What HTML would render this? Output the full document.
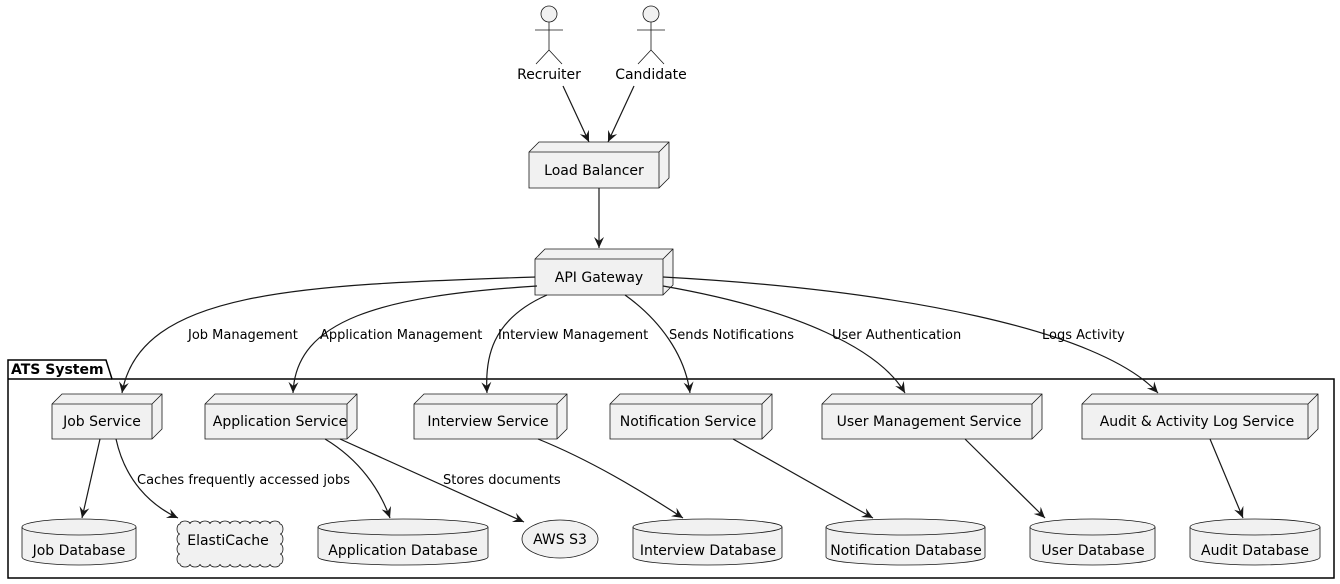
<!DOCTYPE html>
<html><head><meta charset="utf-8"><style>
html,body{margin:0;padding:0;background:#fff;}
svg{display:block;}
text{font-family:"DejaVu Sans","Liberation Sans",sans-serif;fill:#000;}
.n{fill:#f1f1f1;stroke:#181818;stroke-width:0.8;}
.e{fill:none;stroke:#181818;stroke-width:1.2;}
</style></head><body>
<svg width="1340" height="584" viewBox="0 0 1340 584" xmlns="http://www.w3.org/2000/svg">
<defs>
<marker id="a" viewBox="0 0 12 12" refX="11" refY="6" markerWidth="12" markerHeight="12" markerUnits="userSpaceOnUse" orient="auto">
<path d="M0,1 L11,6 L0,11 L4,6 Z" fill="#181818"/>
</marker>
</defs>

<g class="n" stroke="#181818">
<circle cx="549" cy="14" r="8"/>
<circle cx="651" cy="14" r="8"/>
</g>
<g stroke="#181818" stroke-width="0.8" fill="none">
<path d="M549,22 V50 M535,30 H563 M549,50 L536,64 M549,50 L562,64"/>
<path d="M651,22 V50 M637,30 H665 M651,50 L638,64 M651,50 L664,64"/>
</g>
<text x="549" y="79" font-size="14" text-anchor="middle">Recruiter</text>
<text x="651" y="79" font-size="14" text-anchor="middle">Candidate</text>

<path class="e" d="M563,86 L589,142" marker-end="url(#a)"/>
<path class="e" d="M634,86 L608,142" marker-end="url(#a)"/>

<g class="n"><path d="M529,152 L539,142 H669 V178 L659,188 H529 Z"/><path d="M529,152 H659 L669,142 M659,152 V188" fill="none"/></g>
<text x="594" y="175" font-size="14" text-anchor="middle">Load Balancer</text>
<path class="e" d="M599,188 V248" marker-end="url(#a)"/>

<g class="n"><path d="M535,259 L545,249 H673 V285 L663,295 H535 Z"/><path d="M535,259 H663 L673,249 M663,259 V295" fill="none"/></g>
<text x="599" y="282" font-size="14" text-anchor="middle">API Gateway</text>

<path d="M8,379 V578 H1334 V379 H112 L106,360 H8 Z" fill="none" stroke="#000" stroke-width="1.5"/>
<path d="M8,379 H112" stroke="#000" stroke-width="1.5"/>
<text x="11" y="374" font-size="14" font-weight="bold">ATS System</text>

<path class="e" d="M535,277 C300,285 140,290 122,393" marker-end="url(#a)"/>
<path class="e" d="M537,286 C380,296 296,320 293,393" marker-end="url(#a)"/>
<path class="e" d="M547,295 C490,320 485,360 487,393" marker-end="url(#a)"/>
<path class="e" d="M625,295 C660,320 685,355 690,393" marker-end="url(#a)"/>
<path class="e" d="M663,286 C800,310 880,350 905,393" marker-end="url(#a)"/>
<path class="e" d="M663,277 C900,290 1100,330 1158,393" marker-end="url(#a)"/>
<g font-size="13">
<text x="188" y="339">Job Management</text>
<text x="320" y="339">Application Management</text>
<text x="498" y="339">Interview Management</text>
<text x="669" y="339">Sends Notifications</text>
<text x="832" y="339">User Authentication</text>
<text x="1042" y="339">Logs Activity</text>
</g>

<g class="n">
<path d="M52,404 L62,394 H162 V429 L152,439 H52 Z"/><path d="M52,404 H152 L162,394 M152,404 V439" fill="none"/>
<path d="M205,404 L215,394 H357 V429 L347,439 H205 Z"/><path d="M205,404 H347 L357,394 M347,404 V439" fill="none"/>
<path d="M414,404 L424,394 H567 V429 L557,439 H414 Z"/><path d="M414,404 H557 L567,394 M557,404 V439" fill="none"/>
<path d="M610,404 L620,394 H772 V429 L762,439 H610 Z"/><path d="M610,404 H762 L772,394 M762,404 V439" fill="none"/>
<path d="M822,404 L832,394 H1042 V429 L1032,439 H822 Z"/><path d="M822,404 H1032 L1042,394 M1032,404 V439" fill="none"/>
<path d="M1082,404 L1092,394 H1318 V429 L1308,439 H1082 Z"/><path d="M1082,404 H1308 L1318,394 M1308,404 V439" fill="none"/>
</g>
<g font-size="14" text-anchor="middle">
<text x="102" y="426">Job Service</text>
<text x="280" y="426">Application Service</text>
<text x="488" y="426">Interview Service</text>
<text x="688" y="426">Notification Service</text>
<text x="929" y="426">User Management Service</text>
<text x="1197" y="426">Audit &amp; Activity Log Service</text>
</g>

<path class="e" d="M100,439 L82,518" marker-end="url(#a)"/>
<path class="e" d="M116,439 C125,480 150,505 178,518" marker-end="url(#a)"/>
<path class="e" d="M325,439 C360,460 380,490 390,518" marker-end="url(#a)"/>
<path class="e" d="M340,439 L524,522" marker-end="url(#a)"/>
<path class="e" d="M538,439 C590,460 640,490 683,518" marker-end="url(#a)"/>
<path class="e" d="M733,439 L873,518" marker-end="url(#a)"/>
<path class="e" d="M965,439 L1045,518" marker-end="url(#a)"/>
<path class="e" d="M1210,439 L1243,518" marker-end="url(#a)"/>
<g font-size="13">
<text x="137" y="484">Caches frequently accessed jobs</text>
<text x="443" y="484">Stores documents</text>
</g>

<g class="n">
<path d="M22,527 A57,8 0 0 1 136,527 V557 A57,8 0 0 1 22,557 Z"/><path d="M22,527 A57,8 0 0 0 136,527" fill="none"/>
<path d="M318,527 A85,8 0 0 1 488,527 V557 A85,8 0 0 1 318,557 Z"/><path d="M318,527 A85,8 0 0 0 488,527" fill="none"/>
<path d="M633,527 A74.5,8 0 0 1 782,527 V557 A74.5,8 0 0 1 633,557 Z"/><path d="M633,527 A74.5,8 0 0 0 782,527" fill="none"/>
<path d="M826,527 A79.5,8 0 0 1 985,527 V557 A79.5,8 0 0 1 826,557 Z"/><path d="M826,527 A79.5,8 0 0 0 985,527" fill="none"/>
<path d="M1030,527 A62.5,8 0 0 1 1155,527 V557 A62.5,8 0 0 1 1030,557 Z"/><path d="M1030,527 A62.5,8 0 0 0 1155,527" fill="none"/>
<path d="M1190,527 A65,8 0 0 1 1320,527 V557 A65,8 0 0 1 1190,557 Z"/><path d="M1190,527 A65,8 0 0 0 1320,527" fill="none"/>
<ellipse cx="560" cy="539" rx="38" ry="19"/>
<path d="M180,524 a5,3 0 0 1 10,0 a5,3 0 0 1 10,0 a5,3 0 0 1 10,0 a5,3 0 0 1 10,0 a5,3 0 0 1 10,0 a5,3 0 0 1 10,0 a5,3 0 0 1 10,0 a5,3 0 0 1 10,0 a5,3 0 0 1 10,0 a5,3 0 0 1 10,0 a3,5 0 0 1 0,10 a3,5 0 0 1 0,10 a3,5 0 0 1 0,10 a3,5 0 0 1 0,10 a5,3 0 0 1 -10,0 a5,3 0 0 1 -10,0 a5,3 0 0 1 -10,0 a5,3 0 0 1 -10,0 a5,3 0 0 1 -10,0 a5,3 0 0 1 -10,0 a5,3 0 0 1 -10,0 a5,3 0 0 1 -10,0 a5,3 0 0 1 -10,0 a5,3 0 0 1 -10,0 a3,5 0 0 1 0,-10 a3,5 0 0 1 0,-10 a3,5 0 0 1 0,-10 a3,5 0 0 1 0,-10 Z"/>
</g>
<g font-size="14" text-anchor="middle">
<text x="79" y="555">Job Database</text>
<text x="228" y="545">ElastiCache</text>
<text x="403" y="555">Application Database</text>
<text x="560" y="544">AWS S3</text>
<text x="708" y="555">Interview Database</text>
<text x="906" y="555">Notification Database</text>
<text x="1093" y="555">User Database</text>
<text x="1255" y="555">Audit Database</text>
</g>
</svg>
</body></html>
